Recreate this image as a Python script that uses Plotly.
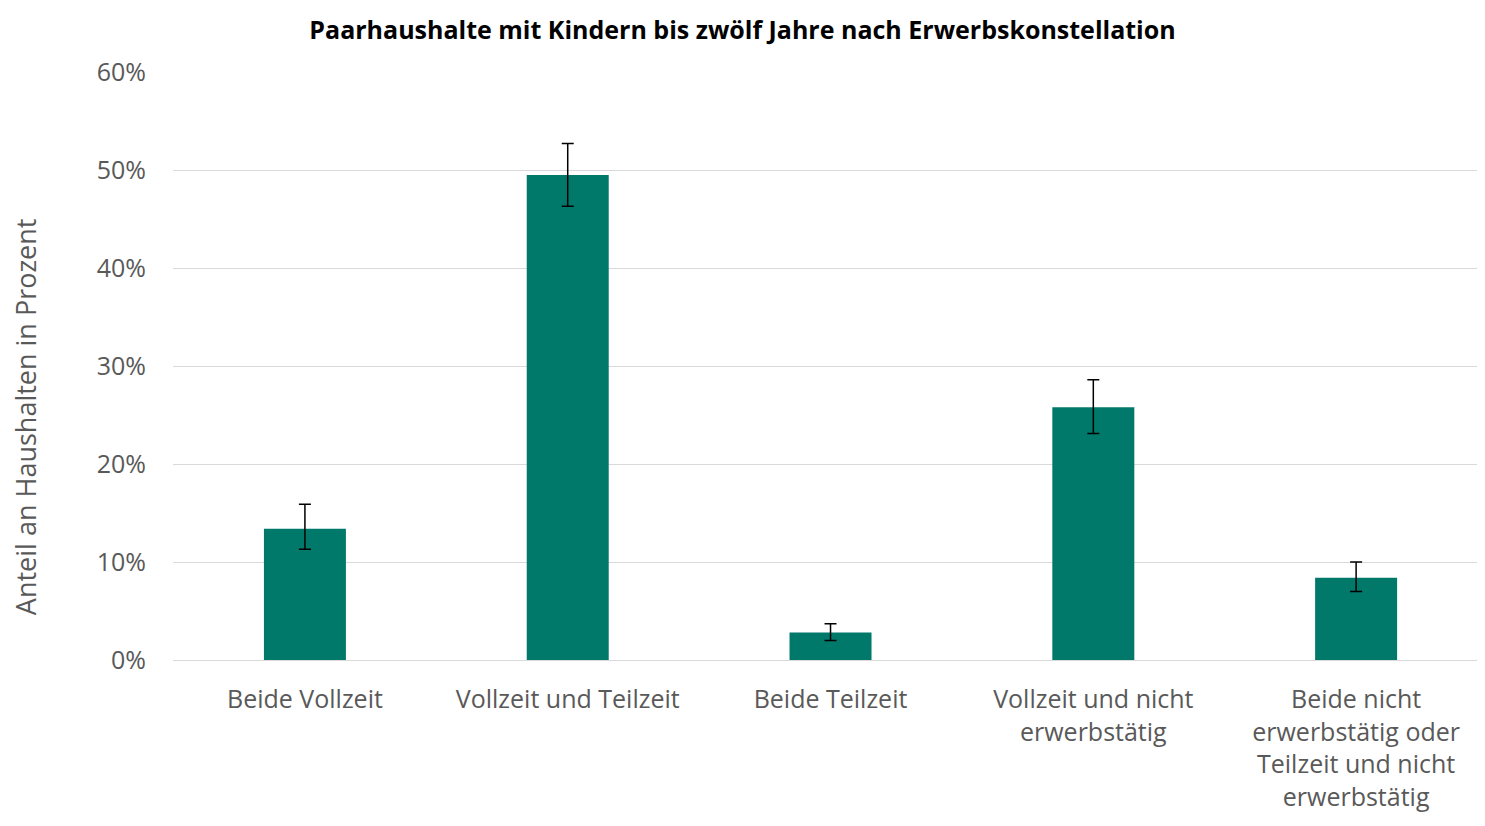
import plotly.graph_objects as go

categories = [
    "Beide Vollzeit",
    "Vollzeit und Teilzeit",
    "Beide Teilzeit",
    "Vollzeit und nicht<br>erwerbstätig",
    "Beide nicht<br>erwerbstätig oder<br>Teilzeit und nicht<br>erwerbstätig",
]
values = [13.4, 49.5, 2.8, 25.8, 8.4]
err_plus = [2.5, 3.2, 0.9, 2.8, 1.6]
err_minus = [2.1, 3.2, 0.8, 2.7, 1.4]
y_ticks = [0, 10, 20, 30, 40, 50, 60]
y_ticktext = ["0%", "10%", "20%", "30%", "40%", "50%", "60%"]

fig = go.Figure(
    go.Bar(
        x=categories,
        y=values,
        marker=dict(color="#00796B", line=dict(width=0)),
        error_y=dict(
            type="data",
            symmetric=False,
            array=err_plus,
            arrayminus=err_minus,
            color="black",
            thickness=1.5,
            width=6,
        ),
    )
)

fig.update_layout(
    width=1469,
    height=810,
    paper_bgcolor="white",
    plot_bgcolor="white",
    margin=dict(l=165, r=0, t=64, b=158),
    bargap=0.688,
    showlegend=False,
    title=dict(
        text="<b>Paarhaushalte mit Kindern bis zwölf Jahre nach Erwerbskonstellation</b>",
        x=0.5,
        xanchor="center",
        y=0.972,
        yanchor="middle",
        font=dict(family="Open Sans, Liberation Sans, sans-serif", size=25, color="black"),
    ),
    font=dict(family="Open Sans, Liberation Sans, sans-serif", color="#595959"),
    annotations=[
        dict(
            text="Anteil an Haushalten in Prozent",
            xref="paper",
            yref="paper",
            x=0,
            y=0.413,
            xanchor="center",
            yanchor="middle",
            xshift=-148,
            textangle=-90,
            showarrow=False,
            font=dict(size=27, color="#595959"),
        )
    ],
)

fig.update_yaxes(
    range=[0, 60],
    tickvals=y_ticks,
    ticktext=y_ticktext,
    showgrid=True,
    gridcolor="#D9D9D9",
    gridwidth=1.2,
    zeroline=True,
    zerolinecolor="#D9D9D9",
    zerolinewidth=1.2,
    showline=False,
    tickfont=dict(size=25, color="#595959"),
    ticklabelstandoff=26,
    fixedrange=True,
)

fig.update_xaxes(
    range=[-0.502, 4.46],
    showline=False,
    showgrid=False,
    tickfont=dict(size=25, color="#595959"),
    ticks="",
    ticklabelstandoff=22,
    tickangle=0,
    fixedrange=True,
)

fig.write_html("out.html")
